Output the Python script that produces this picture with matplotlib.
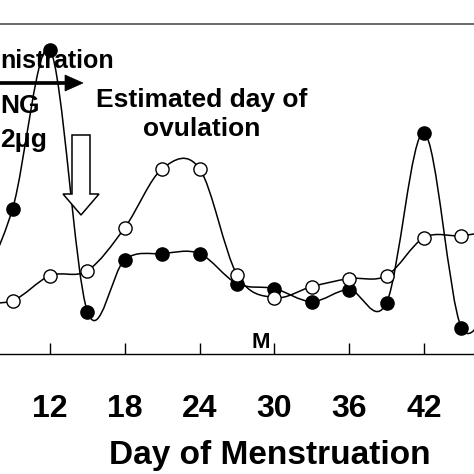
import matplotlib
matplotlib.use("Agg")
import matplotlib.pyplot as plt
from matplotlib.path import Path
from matplotlib.patches import PathPatch, FancyArrow

plt.rcParams['font.family'] = ['Liberation Sans', 'DejaVu Sans']

# ---- data ----
days = [6, 9, 12, 15, 18, 21, 24, 27, 30, 33, 36, 39, 42, 45, 48]
filled_vals = [5.4, 14.5, 30.4, 4.2, 9.4, 10.0, 10.0, 7.0, 6.5, 5.2, 6.4, 5.1, 22.1, 2.6, 7.0]
open_vals = [5.1, 5.3, 7.8, 8.3, 12.6, 18.5, 18.5, 7.9, 5.6, 6.7, 7.5, 7.8, 11.6, 11.8, 12.4]
tick_days = [12, 18, 24, 30, 36, 42]
tick_labels = ['12', '18', '24', '30', '36', '42']
xlabel = 'Day of Menstruation'

W = H = 474


def fx(px):
    return px / W


def fy(py):
    return (H - py) / H


def smooth_path(x, y):
    n = len(x)
    verts = [(x[0], y[0])]
    codes = [Path.MOVETO]
    for i in range(n - 1):
        p0 = i - 1 if i > 0 else i
        p3 = i + 2 if i + 2 < n else i + 1
        c1 = (x[i] + (x[i + 1] - x[p0]) / 6, y[i] + (y[i + 1] - y[p0]) / 6)
        c2 = (x[i + 1] - (x[p3] - x[i]) / 6, y[i + 1] - (y[p3] - y[i]) / 6)
        verts += [c1, c2, (x[i + 1], y[i + 1])]
        codes += [Path.CURVE4] * 3
    return Path(verts, codes)


fig = plt.figure(figsize=(4.74, 4.74), dpi=100)
ax = fig.add_axes([0, fy(353.5), 1, fy(24) - fy(353.5)])
ax.set_xlim(7.99, 46.01)
ax.set_ylim(0, 33)

# hollow "estimated day of ovulation" arrow (behind the curves)
hollow = FancyArrow(fx(81), fy(135), 0, fy(215) - fy(135), width=18 / W,
                    head_width=36 / W, head_length=21 / H, length_includes_head=True,
                    facecolor='white', edgecolor='black', linewidth=1.1,
                    transform=fig.transFigure, zorder=1)
fig.patches.append(hollow)

lw = 1.1
ax.add_patch(PathPatch(smooth_path(days, filled_vals), facecolor='none',
                       edgecolor='black', lw=lw, zorder=3))
ax.add_patch(PathPatch(smooth_path(days, open_vals), facecolor='none',
                       edgecolor='black', lw=lw, zorder=4))
ax.plot(days, filled_vals, linestyle='none', marker='o', ms=9.5,
        mfc='black', mec='black', zorder=5, clip_on=True)
ax.plot(days, open_vals, linestyle='none', marker='o', ms=9.5,
        mfc='white', mec='black', mew=1.0, zorder=6, clip_on=True)

for s in ['left', 'right']:
    ax.spines[s].set_visible(False)
ax.spines['top'].set_color('#505050')
ax.spines['top'].set_linewidth(1.2)
ax.spines['bottom'].set_color('black')
ax.spines['bottom'].set_linewidth(1.0)
ax.set_yticks([])
ax.set_xticks(tick_days)
ax.set_xticklabels(tick_labels, fontsize=23, fontweight='bold')
ax.tick_params(axis='x', direction='in', length=8, width=1.0, pad=29.5)
ax.patch.set_alpha(0)

fig.text(fx(270), fy(464), xlabel, ha='center', va='baseline',
         fontsize=24, fontweight='bold')

# annotations
fig.text(fx(0.5), fy(68), 'nistration', ha='left', va='baseline',
         fontsize=18, fontweight='bold')
fig.text(fx(0.5), fy(113), 'NG', ha='left', va='baseline',
         fontsize=19, fontweight='bold')
fig.text(fx(0.5), fy(147), '2\u03bcg', ha='left', va='baseline',
         fontsize=19, fontweight='bold')
fig.text(fx(202), fy(107), 'Estimated day of', ha='center', va='baseline',
         fontsize=19, fontweight='bold')
fig.text(fx(202), fy(136), 'ovulation', ha='center', va='baseline',
         fontsize=19, fontweight='bold')
fig.text(fx(261), fy(348), 'M', ha='center', va='baseline',
         fontsize=16, fontweight='bold')

solid = FancyArrow(fx(0), fy(83), fx(83), 0, width=3 / H, head_width=16 / H,
                   head_length=18 / W, length_includes_head=True,
                   facecolor='black', edgecolor='black', linewidth=0.5,
                   transform=fig.transFigure, zorder=2)
fig.patches.append(solid)

fig.savefig('out.png', dpi=100)
